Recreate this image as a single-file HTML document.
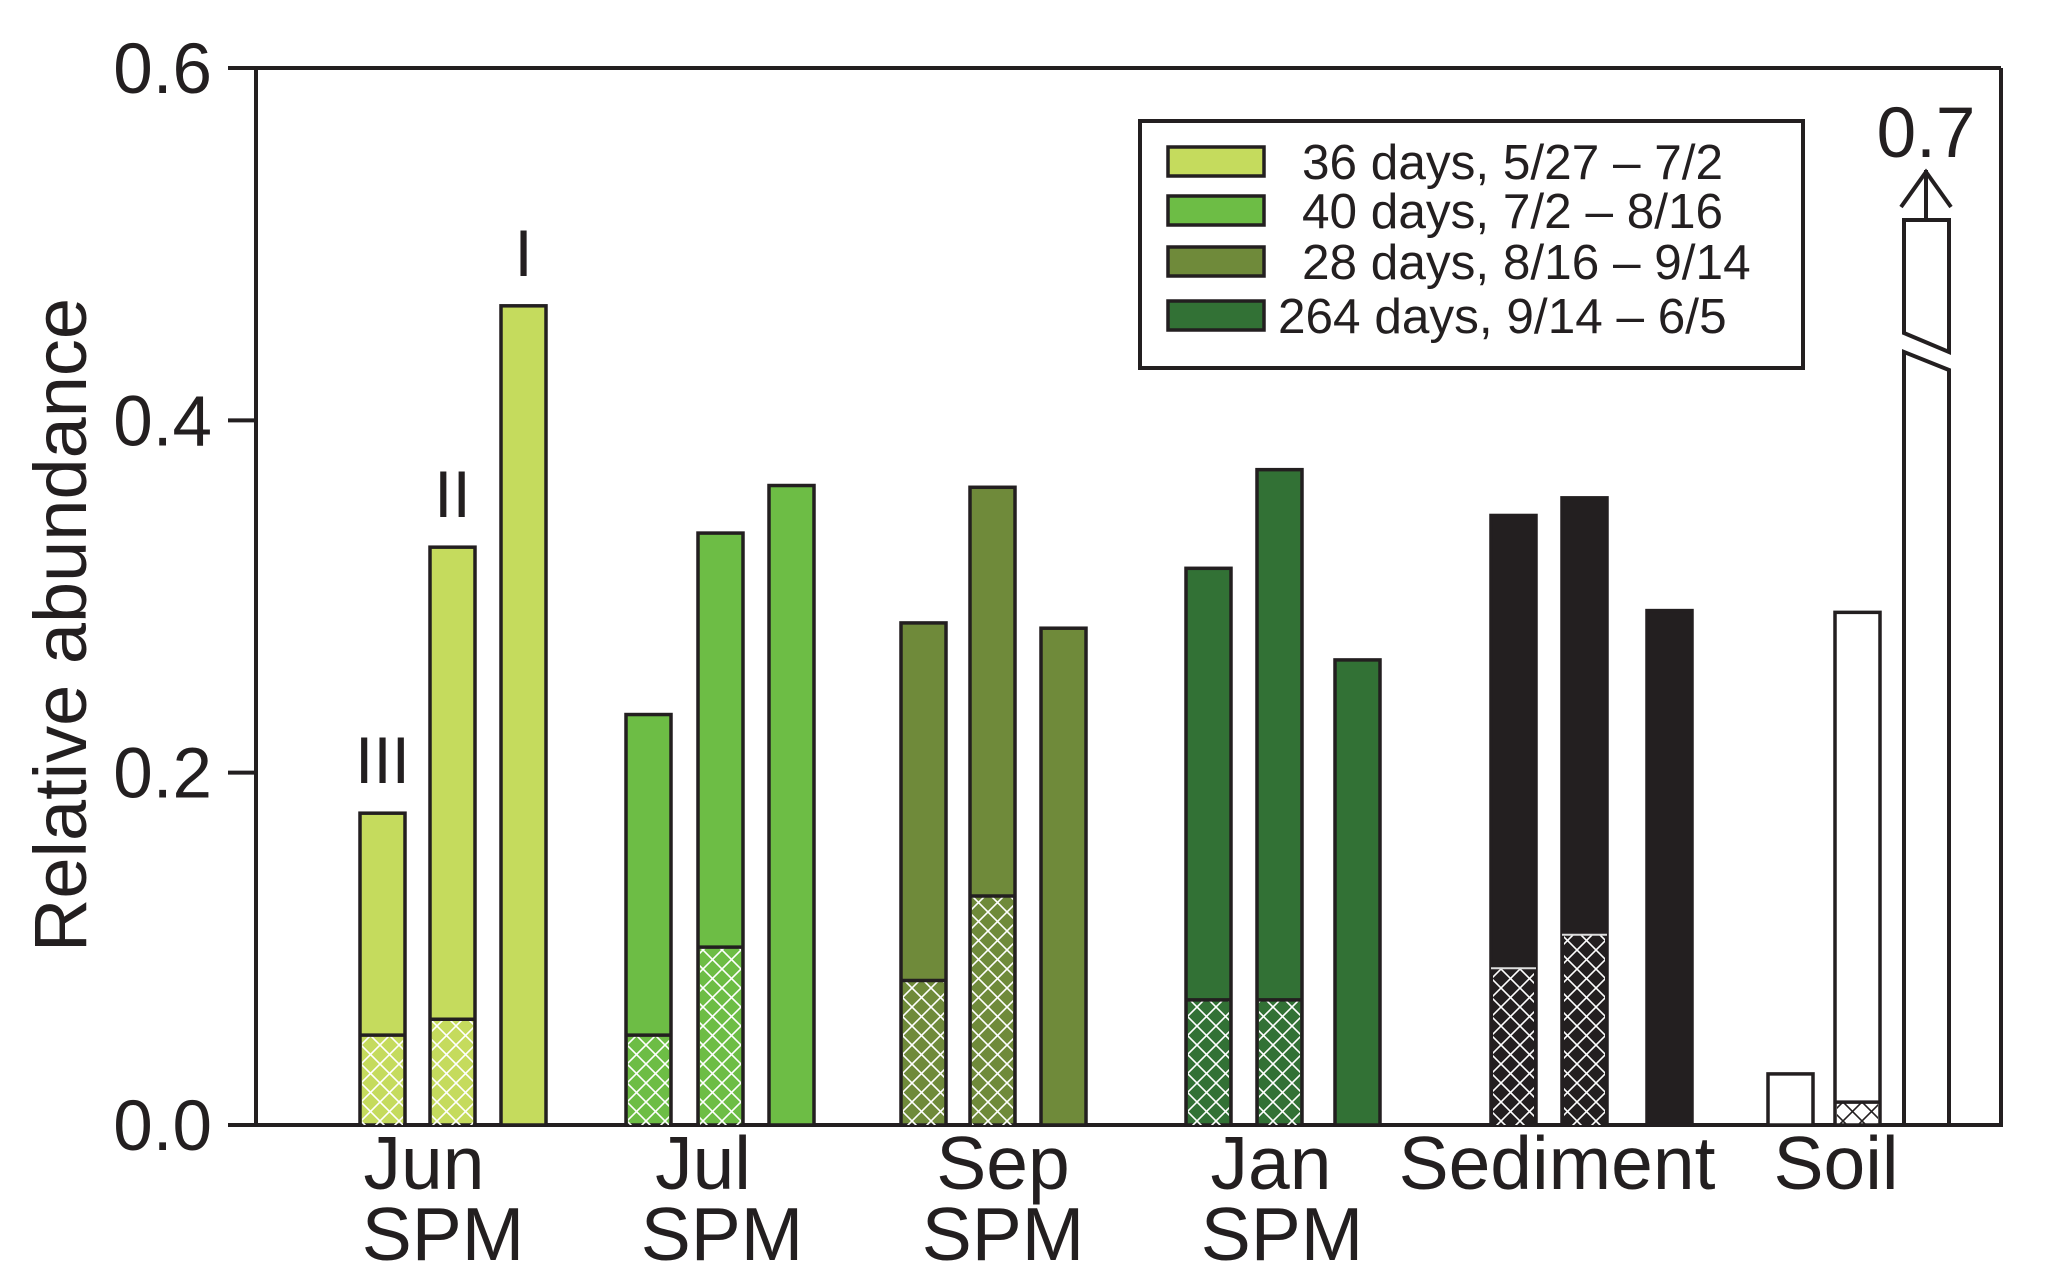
<!DOCTYPE html>
<html><head><meta charset="utf-8"><style>
html,body{margin:0;padding:0;background:#fff;}
svg{display:block;font-family:"Liberation Sans",Arial,sans-serif;}
</style></head><body>
<svg width="2067" height="1284" viewBox="0 0 2067 1284" xmlns="http://www.w3.org/2000/svg">
<defs>
<pattern id="hw" patternUnits="userSpaceOnUse" width="19" height="19">
<path d="M0,0 L19,19 M19,0 L0,19" stroke="#fff" stroke-width="1.6"/>
</pattern>
<pattern id="hb" patternUnits="userSpaceOnUse" width="19" height="19">
<path d="M0,0 L19,19 M19,0 L0,19" stroke="#231f20" stroke-width="1.6"/>
</pattern>
</defs>
<g id="plot"></g>
</svg>
<script>
const categories = ["Jun SPM","Jul SPM","Sep SPM","Jan SPM","Sediment","Soil"];
const totalsJun = [0.177, 0.328, 0.465];
const totalsJul = [0.233, 0.336, 0.363];
const totalsSep = [0.285, 0.362, 0.282];
const totalsJan = [0.316, 0.372, 0.264];
const totalsSed = [0.346, 0.356, 0.292];
const totalsSoil = [0.029, 0.291, 0.7];
const hatchJun = [0.051, 0.060, 0];
const hatchJul = [0.051, 0.101, 0];
const hatchSep = [0.082, 0.130, 0];
const hatchJan = [0.071, 0.071, 0];
const hatchSed = [0.089, 0.108, 0];
const hatchSoil = [0, 0.013, 0];
const yTicks = [0.0, 0.2, 0.4, 0.6];
const yTickLabels = ["0.0","0.2","0.4","0.6"];
const legendLabels = ["36 days, 5/27 \u2013 7/2","40 days, 7/2 \u2013 8/16","28 days, 8/16 \u2013 9/14","264 days, 9/14 \u2013 6/5"];

const NS="http://www.w3.org/2000/svg";
const g=document.getElementById('plot');
const X0=256,X1=2001,Y0=1125,YT=68,YMAX=0.6;
function y(v){return Y0-(v/YMAX)*(Y0-YT);}
const groupStart=[360,626,901,1186,1491,1768];
const barOffsets=[[0,70,141],[0,72,143],[0,69,140],[0,71,149],[0,71,156],[0,67,136]];
const barW=45;
const colors=["#c5db5d","#6dbd45","#6f8a3a","#327135","#231f20","#ffffff"];
const hatchFill=["url(#hw)","url(#hw)","url(#hw)","url(#hw)","url(#hw)","url(#hb)"];
const totals=[totalsJun,totalsJul,totalsSep,totalsJan,totalsSed,totalsSoil];
const hatches=[hatchJun,hatchJul,hatchSep,hatchJan,hatchSed,hatchSoil];
const stroke="#231f20";
function mk(tag,attrs,parent){const e=document.createElementNS(NS,tag);for(const k in attrs)e.setAttribute(k,attrs[k]);(parent||g).appendChild(e);return e;}

let e=mk('line',{x1:X0,y1:YT,x2:X1,y2:YT,stroke:stroke,'stroke-width':4});


e=mk('line',{x1:X1,y1:YT,x2:X1,y2:Y0,stroke:stroke,'stroke-width':4});


e=mk('line',{x1:X0,y1:YT-2,x2:X0,y2:Y0,stroke:stroke,'stroke-width':4});


e=mk('line',{x1:228,y1:Y0,x2:X1+2,y2:Y0,stroke:stroke,'stroke-width':4});


yTicks.forEach((t,i)=>{
  const tk=mk('line',{x1:228,y1:y(t),x2:X0,y2:y(t),stroke:stroke,'stroke-width':4});
  
  
  const tl=mk('text',{x:212,y:y(t)+25,'font-size':71,'text-anchor':'end',fill:stroke});
  tl.textContent=yTickLabels[i];
  
  
});
e=mk('text',{x:0,y:0,'font-size':74,'text-anchor':'middle',fill:stroke,transform:'translate(86,625) rotate(-90)'});
e.textContent='Relative abundance';



totals.forEach((arr,gi)=>{
  arr.forEach((v,bi)=>{
    const x=groupStart[gi]+barOffsets[gi][bi];
    const h=hatches[gi][bi];
    if(gi===5&&bi===2){
      const topY=220, xl=x, xr=x+barW;
      const up=mk('path',{d:`M${xl},${topY} L${xr},${topY} L${xr},352 L${xl},333 Z`,fill:'#fff',stroke:stroke,'stroke-width':4});
      
      
      const lo=mk('path',{d:`M${xl},352 L${xr},370 L${xr},${Y0} L${xl},${Y0} Z`,fill:'#fff',stroke:stroke,'stroke-width':4});
      
      
      const ar=mk('path',{d:`M${x+22},${topY} L${x+22},170 M${x-3},207 L${x+22},172 L${x+47},207`,fill:'none',stroke:stroke,'stroke-width':4});
      
      
      const lb=mk('text',{x:x+22,y:157,'font-size':71,'text-anchor':'middle',fill:stroke});
      lb.textContent=String(v);
      
      
      return;
    }
    const r=mk('rect',{x:x,y:y(v),width:barW,height:Y0-y(v),fill:colors[gi],stroke:stroke,'stroke-width':3.5});
    
    
    if(h>0){
      const hr=mk('rect',{x:x+2,y:y(h),width:barW-4,height:Y0-y(h),fill:hatchFill[gi]});
      
      
      const hl=mk('line',{x1:x,y1:y(h),x2:x+barW,y2:y(h),stroke:gi===4?'#ddd':stroke,'stroke-width':gi===4?2:3.5});
      
      
    }
  });
});

const romanLabels=["III","II","I"];
romanLabels.forEach((t,bi)=>{
  const x=groupStart[0]+barOffsets[0][bi]+barW/2;
  const tx=mk('text',{x:x,y:y(totalsJun[bi])-30,'font-size':66,'text-anchor':'middle',fill:stroke});
  tx.textContent=t;
  
  
});

const catCenters=[424,703,1003,1271,1557,1836];
const spmCenters=[443,722,1003,1282];
categories.forEach((c,i)=>{
  const parts=c.split(' ');
  const t1=mk('text',{x:catCenters[i],y:1189,'font-size':75,'text-anchor':'middle',fill:stroke});
  t1.textContent=parts[0];
  
  
  if(parts[1]){
    const t2=mk('text',{x:spmCenters[i],y:1260,'font-size':75,'text-anchor':'middle',fill:stroke});
    t2.textContent=parts[1];
    
    
  }
});

const lg=mk('g',{});


const lb=mk('rect',{x:1140,y:121,width:663,height:247,fill:'#fff',stroke:stroke,'stroke-width':4},lg);


const rowY=[161,210,261,315];
const textX=[1302,1302,1302,1278];
legendLabels.forEach((t,i)=>{
  const sw=mk('rect',{x:1168,y:rowY[i]-14,width:96,height:29,fill:colors[i],stroke:stroke,'stroke-width':3.5},lg);
  
  
  const tx=mk('text',{x:textX[i],y:rowY[i]+18,'font-size':49.5,fill:stroke},lg);
  tx.textContent=t;
  
  
});
</script>
</body></html>
